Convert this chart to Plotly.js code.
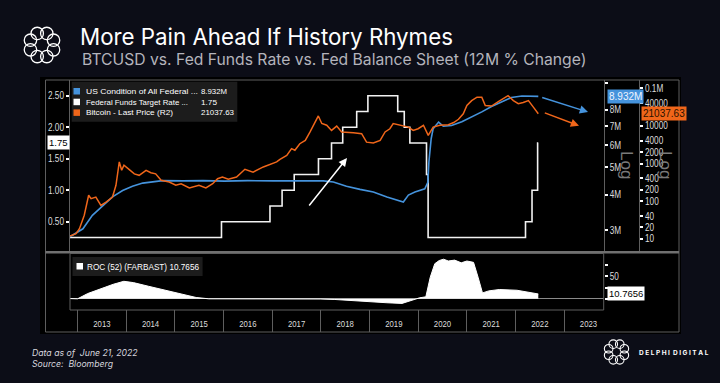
<!DOCTYPE html>
<html><head><meta charset="utf-8">
<script src="https://cdn.plot.ly/plotly-3.0.1.min.js"></script>
<style>html,body{margin:0;padding:0;background:#0c0d17;}#chart{width:720px;height:383px;}</style>
</head><body><div id="chart"></div>
<script>
// ---------- DATA ----------
const ffDates = ['2012-11-05','2015-12-17','2016-12-15','2017-03-16','2017-06-15','2017-12-14','2018-03-22','2018-06-14','2018-09-27','2018-12-20','2019-08-01','2019-09-19','2019-10-31','2020-03-04','2020-03-16','2022-03-17','2022-05-05','2022-06-16','2022-06-21'];
const ffValues = [0.25,0.50,0.75,1.00,1.25,1.50,1.75,2.00,2.25,2.50,2.25,2.00,1.75,1.25,0.25,0.50,1.00,1.75,1.75];

const bsDates = ['2012-11-05','2013-02-10','2013-04-22','2013-07-08','2013-09-20','2013-12-05','2014-02-17','2014-05-05','2014-07-20','2014-10-01','2015-03-01','2015-08-01','2016-01-10','2016-07-01','2017-01-10','2017-07-01','2018-01-20','2018-04-05','2018-07-12','2018-10-22','2019-01-30','2019-05-12','2019-07-12','2019-09-12','2019-10-20','2019-12-08','2020-02-20','2020-03-14','2020-03-22','2020-04-08','2020-04-23','2020-06-03','2020-07-08','2020-09-08','2020-11-24','2021-02-06','2021-04-23','2021-07-05','2021-09-20','2021-12-01','2022-02-18','2022-05-05','2022-06-21'];
const bsValues = [2.84,3.03,3.38,3.66,3.93,4.14,4.29,4.40,4.45,4.49,4.48,4.49,4.47,4.49,4.48,4.49,4.48,4.44,4.29,4.18,4.09,3.93,3.85,3.77,3.99,4.09,4.20,4.43,5.23,6.32,6.86,7.24,7.00,7.04,7.26,7.53,7.87,8.22,8.55,8.85,8.96,8.96,8.932];

const btcDates = ['2012-11-05','2012-12-20','2013-01-15','2013-02-20','2013-03-25','2013-04-12','2013-05-18','2013-06-25','2013-08-05','2013-09-20','2013-10-16','2013-11-10','2013-11-28','2013-12-15','2014-01-22','2014-03-03','2014-04-08','2014-05-30','2014-07-05','2014-08-10','2014-09-20','2014-11-20','2015-01-08','2015-02-17','2015-04-20','2015-07-01','2015-08-22','2015-10-12','2015-11-18','2015-12-24','2016-02-06','2016-04-08','2016-06-10','2016-08-10','2016-10-26','2016-12-28','2017-02-03','2017-02-28','2017-04-20','2017-05-26','2017-06-20','2017-07-27','2017-09-06','2017-10-12','2017-11-18','2017-12-13','2018-01-08','2018-02-14','2018-03-22','2018-04-30','2018-06-06','2018-07-12','2018-09-02','2018-11-03','2018-12-10','2019-01-30','2019-03-22','2019-04-28','2019-06-03','2019-06-28','2019-08-04','2019-09-13','2019-10-20','2019-11-25','2020-01-01','2020-02-10','2020-03-17','2020-04-23','2020-06-12','2020-08-15','2020-09-24','2020-10-30','2020-12-05','2021-01-01','2021-02-06','2021-03-18','2021-04-23','2021-05-19','2021-07-05','2021-08-25','2021-10-01','2021-11-06','2021-12-16','2022-01-22','2022-02-28','2022-04-08','2022-05-15','2022-06-21'];
const btcValues = [11.8,13.6,18.5,42,143,116,128,77,95,128,264,1100,660,900,700,530,485,660,570,530,358,322,264,290,224,264,224,290,395,435,380,435,700,590,810,990,1100,1290,1650,2480,2250,3360,4130,6900,12800,18400,11600,10400,7600,9900,6900,6900,6600,6200,3700,3500,4130,6900,8400,11600,10800,9900,9300,7600,8400,10400,5600,9300,10400,10800,12300,15000,21000,35000,47000,58000,58000,35000,33700,44000,53000,64000,47000,39000,42000,47000,31600,21037.63];

const rocDates = ['2012-11-05','2013-01-01','2013-03-18','2013-06-24','2013-09-26','2013-12-14','2014-02-24','2014-06-17','2014-10-27','2015-03-04','2015-06-10','2015-09-13','2016-06-01','2017-06-01','2018-01-01','2018-04-16','2018-08-25','2019-01-01','2019-05-12','2019-09-02','2019-11-06','2020-01-12','2020-02-28','2020-04-01','2020-05-05','2020-06-07','2020-07-10','2020-08-15','2020-10-01','2020-11-20','2021-01-01','2021-02-20','2021-03-26','2021-04-28','2021-06-14','2021-09-02','2022-01-12','2022-04-20','2022-06-21'];
const rocValues = [0.5,0,11.7,22.8,32.3,38.9,36,27.9,19,9.5,2.9,0,0.3,0,-0.5,-1.5,-4.4,-6.6,-8.8,-10.3,-4.4,2.2,4.4,48,78,85,88,84,86,80,84,81,48,13,17.6,20.6,19,14.7,10.7656];

const bsName = 'US Condition of All Federal ...', bsLast = '8.932M';
const ffName = 'Federal Funds Target Rate ...', ffLast = '1.75';
const btcName = 'Bitcoin - Last Price (R2)', btcLast = '21037.63';
const rocName = 'ROC (52) (FARBAST)', rocLast = '10.7656';
const btcTicks = [10,20,40,100,200,400,1000,2000,4000,10000,40000,100000];
const btcTickText = ['10','20','40','100','200','400','1000','2000','4000','10000','40000','0.1M'];
const bsTicks = [3,4,5,6,7,8,10];
const bsTickText = ['3M','4M','5M','6M','7M','8M',''];
const ffTicks = [0.5,1.0,1.5,2.0,2.5];

// ---------- STYLE ----------
const W=720,H=383;
const fx=p=>p/W, fy=p=>1-p/H;
const TF='"Liberation Sans",Arial,sans-serif';
const HF='Inter,"Open Sans",sans-serif';
const BLUE='#4593dc', ORANGE='#f0661a', WHITE='#f2f2f2', GRID='#5e5e5e', TXT='#dcdcdc';

const traces=[
 {x:ffDates,y:ffValues,type:'scatter',mode:'lines',line:{color:WHITE,width:1.6,shape:'hv'},yaxis:'y',xaxis:'x',name:ffName},
 {x:bsDates,y:bsValues,type:'scatter',mode:'lines',line:{color:BLUE,width:1.6},yaxis:'y2',xaxis:'x',name:bsName},
 {x:btcDates,y:btcValues,type:'scatter',mode:'lines',line:{color:ORANGE,width:1.5},yaxis:'y3',xaxis:'x',name:btcName},
 {x:rocDates,y:rocValues,type:'scatter',mode:'lines',fill:'tozeroy',fillcolor:'#ffffff',line:{color:'#ffffff',width:1},xaxis:'x2',yaxis:'y4',name:rocName},
 {x:[],y:[],type:'scatter',mode:'lines',xaxis:'x3',yaxis:'y5',hoverinfo:'skip',showlegend:false}
];

const xr=['2012-11-05','2023-10-25'];
const tickCommon={ticks:'outside',ticklen:3,tickwidth:2,tickcolor:'#ffffff',tickfont:{family:TF,size:10,color:TXT},showgrid:false,zeroline:false,showline:true,linecolor:GRID,linewidth:1};

const layout={
 width:W,height:H,margin:{l:0,r:0,t:0,b:0},
 paper_bgcolor:'#0c0d17',plot_bgcolor:'rgba(0,0,0,0)',showlegend:false,
 title:{text:'More Pain Ahead If History Rhymes',x:fx(80),xanchor:'left',xref:'paper',y:fy(37),yanchor:'middle',yref:'paper',font:{family:HF,size:22.3,color:'#ffffff'}},
 xaxis:{domain:[fx(70),fx(603.7)],range:xr,type:'date',anchor:'y',showticklabels:false,ticks:'',showgrid:false,zeroline:false,showline:false},
 yaxis:Object.assign({},tickCommon,{domain:[fy(251.7),fy(80)],range:[0.024,2.749],tickvals:ffTicks,tickformat:'.2f',anchor:'x'}),
 yaxis2:Object.assign({},tickCommon,{overlaying:'y',side:'right',anchor:'x',type:'log',range:[0.4002,1.009],tickvals:bsTicks,ticktext:bsTickText}),
 yaxis3:Object.assign({},tickCommon,{overlaying:'y',side:'right',anchor:'free',position:fx(639),type:'log',range:[0.654,5.221],tickvals:btcTicks,ticktext:btcTickText}),
 xaxis2:{domain:[fx(70),fx(603.7)],range:xr,type:'date',anchor:'y4',matches:'x',showticklabels:false,ticks:'',showgrid:false,zeroline:false,showline:false},
 yaxis4:Object.assign({},tickCommon,{domain:[fy(310),fy(253.5)],anchor:'x2',side:'right',range:[-24.9,100.7],tickvals:[0,25,50,75],ticktext:['','','50',''],zeroline:true,zerolinecolor:'#8a8a8a',zerolinewidth:1,showline:false}),
 xaxis3:{domain:[fx(70),fx(603.7)],range:xr,type:'date',anchor:'y5',ticks:'',showgrid:true,gridcolor:GRID,gridwidth:1,dtick:'M12',tick0:'2013-01-01',tickformat:'%Y',ticklabelmode:'period',ticklabelposition:'inside',tickfont:{family:TF,size:9.5,color:TXT},zeroline:false,showline:false},
 yaxis5:{domain:[fy(332),fy(310)],anchor:'x3',range:[0,1],showticklabels:false,showgrid:false,zeroline:false,showline:false,ticks:''},
 shapes:[],annotations:[]
};

const S=layout.shapes, A=layout.annotations;
const rect=(x0,y0,x1,y1,o)=>S.push(Object.assign({type:'rect',xref:'paper',yref:'paper',x0:fx(x0),x1:fx(x1),y0:fy(y1),y1:fy(y0),line:{width:0}},o||{}));
// panel
rect(40,77,681,334,{fillcolor:'#000000',layer:'below'});
rect(45.5,80,679,332,{line:{color:GRID,width:1},layer:'below'});
S.push({type:'line',xref:'paper',yref:'paper',x0:fx(45.5),x1:fx(679),y0:fy(252.3),y1:fy(252.3),line:{color:'#707070',width:2.5}});
rect(70,253.5,603.7,310,{line:{color:GRID,width:1}});
// legend boxes
rect(71.7,81.7,237.3,121.7,{fillcolor:'#1c1c1c'});
rect(73.5,88,80,94.5,{fillcolor:BLUE});
rect(73.5,98.7,80,105.2,{fillcolor:'#ffffff'});
rect(73.5,109.4,80,115.9,{fillcolor:ORANGE});
rect(72.5,257,202.6,276,{fillcolor:'#1c1c1c'});
rect(76.5,263,83,269.5,{fillcolor:'#ffffff'});
// logos (ring of loops)
function ring(cx,cy,R,r,w){for(let i=0;i<8;i++){const a=i*Math.PI/4+Math.PI/8;const x=cx+R*Math.cos(a),y=cy+R*Math.sin(a);
 S.push({type:'circle',xref:'paper',yref:'paper',x0:fx(x-r),x1:fx(x+r),y0:fy(y+r),y1:fy(y-r),line:{color:'#ffffff',width:w}});}}
ring(42,45,12.5,6.2,1.3);
ring(616.5,352,8.5,4.3,1.1);

const squeezeList=[];
const ann=(o,w)=>{if(w)squeezeList.push({i:A.length,w:w});A.push(Object.assign({xref:'paper',yref:'paper',showarrow:false},o));};
ann({text:'BTCUSD vs. Fed Funds Rate vs. Fed Balance Sheet (12M % Change)',x:fx(80),y:fy(59),xanchor:'left',yanchor:'middle',font:{family:HF,size:15.7,color:'#b4b4bc'}});
const lf={family:TF,size:7.6,color:'#ffffff'};
ann({text:bsName,x:fx(84),y:fy(91.3),xanchor:'left',yanchor:'middle',align:'left',font:lf},112);
ann({text:ffName,x:fx(84),y:fy(102),xanchor:'left',yanchor:'middle',align:'left',font:lf},102);
ann({text:btcName,x:fx(84),y:fy(112.7),xanchor:'left',yanchor:'middle',align:'left',font:lf},87);
ann({text:bsLast,x:fx(199),y:fy(91.3),xanchor:'left',yanchor:'middle',align:'left',font:lf},26);
ann({text:ffLast,x:fx(199),y:fy(102),xanchor:'left',yanchor:'middle',align:'left',font:lf},16);
ann({text:btcLast,x:fx(199),y:fy(112.7),xanchor:'left',yanchor:'middle',align:'left',font:lf},33);
ann({text:rocName+' '+rocLast,x:fx(85),y:fy(266.5),xanchor:'left',yanchor:'middle',align:'left',font:{family:TF,size:8.5,color:'#ffffff'}},112);
// value boxes
ann({text:ffLast,x:fx(47),yref:'y',y:ffValues[ffValues.length-1],xanchor:'left',yanchor:'middle',bgcolor:'#ffffff',borderpad:1,font:{family:TF,size:9.5,color:'#000000'}});
ann({text:bsLast,x:fx(607),yref:'y2',y:Math.log10(bsValues[bsValues.length-1]),xanchor:'left',yanchor:'middle',bgcolor:BLUE,borderpad:1,font:{family:TF,size:10,color:'#eef4ff'}});
ann({text:btcLast,x:fx(641),yref:'y3',y:Math.log10(btcValues[btcValues.length-1]),xanchor:'left',yanchor:'middle',bgcolor:ORANGE,borderpad:1,font:{family:TF,size:10,color:'#2a1200'}});
ann({text:rocLast,x:fx(607),yref:'y4',y:rocValues[rocValues.length-1],xanchor:'left',yanchor:'middle',bgcolor:'#ffffff',borderpad:1,font:{family:TF,size:9.5,color:'#000000'}});
// Log labels
ann({text:'Log',x:fx(627),y:fy(165),xanchor:'center',yanchor:'middle',textangle:90,font:{family:TF,size:17,color:'#7a7a7a'}});
ann({text:'Log',x:fx(666),y:fy(165),xanchor:'center',yanchor:'middle',textangle:90,font:{family:TF,size:17,color:'#7a7a7a'}});
// arrows
const arr=(hx,hy,tx,ty,c)=>A.push({xref:'paper',yref:'paper',x:fx(hx),y:fy(hy),ax:tx-hx,ay:ty-hy,axref:'pixel',ayref:'pixel',text:'',showarrow:true,arrowhead:2,arrowsize:1.1,arrowwidth:1.5,arrowcolor:c});
arr(347,158,308,207,'#ffffff');
arr(588,112,540.7,97,BLUE);
arr(579,125.7,543.3,112.3,ORANGE);
// footer
ann({text:'<i>Data as of  June 21, 2022</i>',x:fx(30),y:fy(353),xanchor:'left',yanchor:'middle',font:{family:HF,size:8.7,color:'#d6d6de'}});
ann({text:'<i>Source:  Bloomberg</i>',x:fx(30),y:fy(364),xanchor:'left',yanchor:'middle',font:{family:HF,size:8.7,color:'#d6d6de'}});
ann({text:'<b>D E L P H I  D I G I T A L</b>',x:fx(637),y:fy(352.5),xanchor:'left',yanchor:'middle',font:{family:HF,size:6.5,color:'#ffffff'}});

Plotly.newPlot('chart',traces,layout,{staticPlot:true,displayModeBar:false}).then(()=>{
  // condense texts to mimic the terminal's narrow font
  squeezeList.forEach(s=>{
    const t=document.querySelector('.annotation[data-index="'+s.i+'"] .annotation-text');
    if(t){t.setAttribute('textLength',s.w);t.setAttribute('lengthAdjust','spacingAndGlyphs');}
  });
  document.querySelectorAll('g.ytick text, g.y2tick text, g.y3tick text, g.y4tick text, g.x3tick text').forEach(t=>{
    const L=t.getComputedTextLength(); if(L>0){t.setAttribute('textLength',(L*0.82).toFixed(1));t.setAttribute('lengthAdjust','spacingAndGlyphs');}
  });
});
</script></body></html>
